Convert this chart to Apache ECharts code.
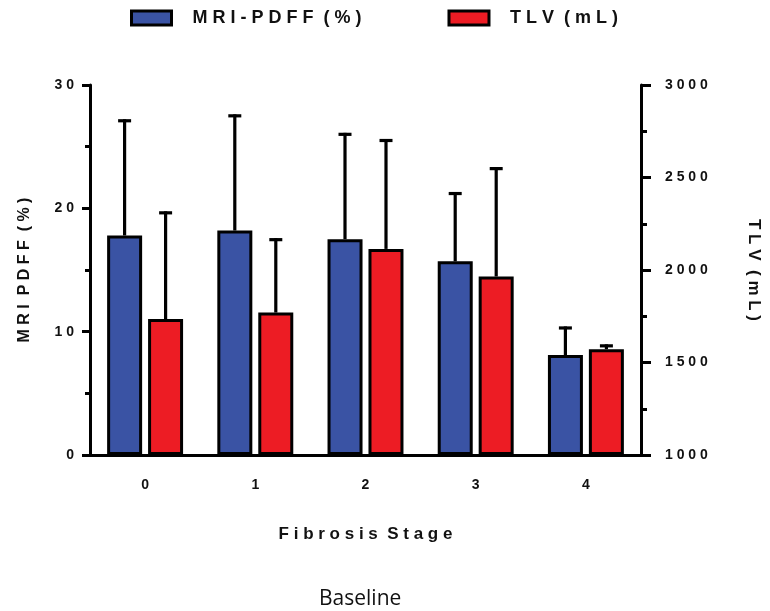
<!DOCTYPE html>
<html>
<head>
<meta charset="utf-8">
<script src="https://cdn.jsdelivr.net/npm/echarts@6/dist/echarts.min.js"></script>
<style>
html,body{margin:0;padding:0;background:#fff;}
#chart{width:770px;height:611px;}
</style>
</head>
<body>
<div id="chart"></div>
<script>
// ---- data ----
const stages = ['0', '1', '2', '3', '4'];
const pdffMean = [17.8, 18.2, 17.5, 15.7, 8.1];
const pdffSD   = [9.3, 9.3, 8.5, 5.5, 2.2];
const tlvMean  = [1735, 1770, 2114, 1965, 1572];
const tlvSD    = [574, 394, 586, 583, 18];
const leftTicks = [0, 10, 20, 30];
const rightTicks = [1000, 1500, 2000, 2500, 3000];
const seriesNames = ['MRI-PDFF (%)', 'TLV (mL)'];
const leftAxisName = 'MRI PDFF (%)';
const rightAxisName = 'TLV (mL)';
const xAxisName = 'Fibrosis Stage';
const caption = 'Baseline';

// ---- helpers ----
function spaced(s) {
  return s.split(' ').map(w => w.split('').join(' ')).join('  ');
}
const FONT = '"Liberation Sans", Arial, sans-serif';
const BLUE = '#3A53A4';
const RED = '#ED1C24';
const BAR_W = 35;
const BAR_OFF = 20.5;

function errRender(dx) {
  return function (params, api) {
    const c = api.value(0);
    const base = api.coord([c, api.value(1)]);
    const top = api.coord([c, api.value(1) + api.value(2)]);
    const x = base[0] + dx;
    const st = { stroke: '#000', lineWidth: 3.2, lineCap: 'butt' };
    return {
      type: 'group',
      children: [
        { type: 'line', shape: { x1: x, y1: base[1], x2: x, y2: top[1] - 1.5 }, style: st },
        { type: 'line', shape: { x1: x - 6.5, y1: top[1], x2: x + 6.5, y2: top[1] }, style: st }
      ]
    };
  };
}

const chart = echarts.init(document.getElementById('chart'), null, { renderer: 'canvas' });
chart.setOption({
  animation: false,
  backgroundColor: '#fff',
  title: {
    text: caption,
    left: 314, top: 584,
    textStyle: { fontFamily: '"Open Sans", sans-serif', fontWeight: 'normal', fontSize: 21, color: '#111' }
  },
  legend: {
    top: 4, left: 125,
    icon: 'rect',
    itemWidth: 40, itemHeight: 14,
    itemGap: 86,
    data: seriesNames,
    itemStyle: { borderColor: '#000', borderWidth: 3 },
    formatter: n => spaced(n),
    textStyle: { fontFamily: FONT, fontWeight: 'bold', fontSize: 18, color: '#111', padding: [0, 0, 0, 16] }
  },
  grid: { left: 90, right: 124, top: 85, bottom: 156, containLabel: false },
  xAxis: {
    type: 'category',
    data: stages,
    name: spaced(xAxisName),
    nameLocation: 'middle',
    nameGap: 71,
    nameTextStyle: { fontFamily: FONT, fontWeight: 'bold', fontSize: 17, color: '#111' },
    axisLine: { lineStyle: { color: '#000', width: 3 } },
    axisTick: { alignWithLabel: true, length: 8, lineStyle: { color: '#000', width: 3 } },
    axisLabel: { margin: 23, fontFamily: FONT, fontWeight: 'bold', fontSize: 14, color: '#111' }
  },
  yAxis: [
    {
      type: 'value', min: leftTicks[0], max: leftTicks[leftTicks.length - 1], interval: 10,
      name: spaced(leftAxisName),
      nameLocation: 'middle', nameRotate: 90, nameGap: 57,
      nameTextStyle: { fontFamily: FONT, fontWeight: 'bold', fontSize: 16, color: '#111' },
      axisLine: { show: true, lineStyle: { color: '#000', width: 3 } },
      axisTick: { show: true, length: 8, lineStyle: { color: '#000', width: 3 } },
      minorTick: { show: true, splitNumber: 2, length: 5, lineStyle: { color: '#000', width: 3 } },
      splitLine: { show: false },
      axisLabel: { margin: 16, fontFamily: FONT, fontWeight: 'bold', fontSize: 14, color: '#111', formatter: v => spaced(String(v)) }
    },
    {
      type: 'value', min: rightTicks[0], max: rightTicks[rightTicks.length - 1], interval: 500,
      startValue: rightTicks[0],
      name: spaced(rightAxisName),
      nameLocation: 'middle', nameRotate: -90, nameGap: 104,
      nameTextStyle: { fontFamily: FONT, fontWeight: 'bold', fontSize: 17, color: '#111' },
      axisLine: { show: true, lineStyle: { color: '#000', width: 3 } },
      axisTick: { show: true, length: 10, lineStyle: { color: '#000', width: 3 } },
      minorTick: { show: true, splitNumber: 2, length: 6, lineStyle: { color: '#000', width: 3 } },
      splitLine: { show: false },
      axisLabel: { margin: 24, fontFamily: FONT, fontWeight: 'bold', fontSize: 14, color: '#111', formatter: v => spaced(String(v)) }
    }
  ],
  series: [
    {
      name: seriesNames[0], type: 'bar', yAxisIndex: 0,
      data: pdffMean, barWidth: BAR_W, barGap: '17%',
      itemStyle: { color: BLUE, borderColor: '#000', borderWidth: 3 }
    },
    {
      name: seriesNames[1], type: 'bar', yAxisIndex: 1,
      data: tlvMean, barWidth: BAR_W, barGap: '17%',
      itemStyle: { color: RED, borderColor: '#000', borderWidth: 3 }
    },
    {
      type: 'custom', yAxisIndex: 0, z: 3,
      renderItem: errRender(-BAR_OFF),
      data: stages.map((s, i) => [i, pdffMean[i], pdffSD[i]]),
      encode: { x: 0, y: [1, 2] }
    },
    {
      type: 'custom', yAxisIndex: 1, z: 3,
      renderItem: errRender(BAR_OFF),
      data: stages.map((s, i) => [i, tlvMean[i], tlvSD[i]]),
      encode: { x: 0, y: [1, 2] }
    }
  ]
});
</script>
</body>
</html>
